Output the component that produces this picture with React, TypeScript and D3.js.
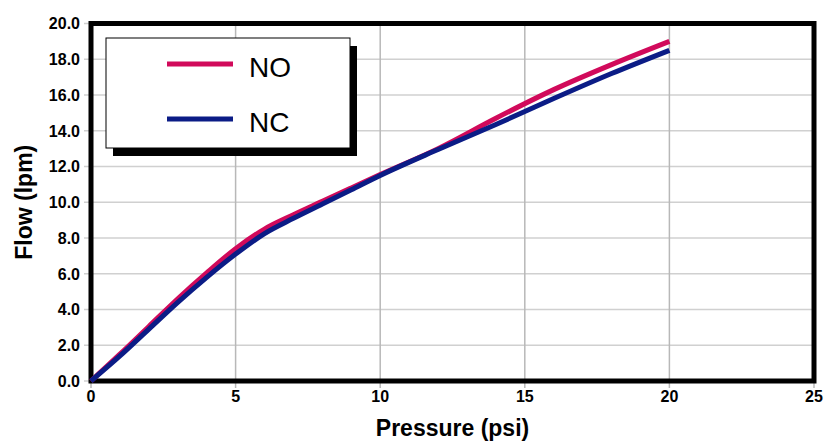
import React from "react";
import * as d3 from "d3";

const pressure: number[] = [0, 1, 2, 3, 4, 5, 6, 7, 8, 9, 10, 12, 14, 16, 18, 20];
const flowNO: number[] = [0, 1.5, 3.05, 4.6, 6.05, 7.4, 8.5, 9.3, 10.05, 10.8, 11.55, 13.0, 14.7, 16.3, 17.7, 19.0];
const flowNC: number[] = [0, 1.4, 2.9, 4.4, 5.8, 7.1, 8.25, 9.1, 9.9, 10.7, 11.5, 12.95, 14.35, 15.8, 17.2, 18.5];
const seriesNames: string[] = ["NO", "NC"];
const seriesColors: string[] = ["#d10a5b", "#0b1c86"];
const xTicks: number[] = [0, 5, 10, 15, 20, 25];
const yTicks: number[] = [0, 2, 4, 6, 8, 10, 12, 14, 16, 18, 20];
const xTitle = "Pressure (psi)";
const yTitle = "Flow (lpm)";

const W = 829;
const H = 443;
const FONT = "'Liberation Sans', Arial, Helvetica, sans-serif";

export default function App() {
  const x = d3.scaleLinear().domain([0, 25]).range([91, 814]);
  const y = d3.scaleLinear().domain([0, 20]).range([381, 23.5]);
  const line = d3
    .line<[number, number]>()
    .x((d) => x(d[0]))
    .y((d) => y(d[1]))
    .curve(d3.curveMonotoneX);
  const series = [flowNO, flowNC].map((vals) =>
    pressure.map((p, i) => [p, vals[i]] as [number, number])
  );

  const legendX = 106;
  const legendY = 38;
  const legendW = 244;
  const legendH = 110;

  return (
    <svg
      width={W}
      height={H}
      style={{ position: "absolute", left: 0, top: 0, background: "#fff" }}
      fontFamily={FONT}
    >
      <rect x={0} y={0} width={W} height={H} fill="#fff" />
      {/* horizontal gridlines */}
      {yTicks.map((t) => (
        <line
          key={"gy" + t}
          x1={84}
          x2={x(25)}
          y1={y(t)}
          y2={y(t)}
          stroke="#d0d0d0"
          strokeWidth={1.5}
        />
      ))}
      {/* vertical gridlines */}
      {xTicks.map((t) => (
        <line
          key={"gx" + t}
          x1={x(t)}
          x2={x(t)}
          y1={y(20)}
          y2={388}
          stroke="#b8b8b8"
          strokeWidth={1.5}
        />
      ))}
      {/* frame */}
      <rect
        x={x(0)}
        y={y(20)}
        width={x(25) - x(0)}
        height={y(0) - y(20)}
        fill="none"
        stroke="#000"
        strokeWidth={5}
      />
      {/* y tick labels */}
      {yTicks.map((t) => (
        <text
          key={"ly" + t}
          x={80}
          y={y(t)}
          dy="0.36em"
          textAnchor="end"
          fontSize={16}
          fontWeight="bold"
          fill="#000"
        >
          {t.toFixed(1)}
        </text>
      ))}
      {/* x tick labels */}
      {xTicks.map((t) => (
        <text
          key={"lx" + t}
          x={x(t)}
          y={402}
          textAnchor="middle"
          fontSize={16}
          fontWeight="bold"
          fill="#000"
        >
          {t}
        </text>
      ))}
      {/* axis titles */}
      <text
        x={(x(0) + x(25)) / 2}
        y={436}
        textAnchor="middle"
        fontSize={23}
        fontWeight="bold"
        fill="#000"
      >
        {xTitle}
      </text>
      <text
        transform={`translate(32,${(y(0) + y(20)) / 2}) rotate(-90)`}
        textAnchor="middle"
        fontSize={23}
        fontWeight="bold"
        fill="#000"
      >
        {yTitle}
      </text>
      {/* data lines */}
      {series.map((s, i) => (
        <path
          key={"s" + i}
          d={line(s) || ""}
          fill="none"
          stroke={seriesColors[i]}
          strokeWidth={5}
          strokeLinejoin="round"
        />
      ))}
      {/* legend */}
      <rect x={legendX + 7} y={legendY + 8} width={legendW} height={legendH} fill="#000" />
      <rect
        x={legendX}
        y={legendY}
        width={legendW}
        height={legendH}
        fill="#fff"
        stroke="#000"
        strokeWidth={1}
      />
      {seriesNames.map((n, i) => (
        <g key={"lg" + n}>
          <line
            x1={167}
            x2={233}
            y1={64 + i * 55}
            y2={64 + i * 55}
            stroke={seriesColors[i]}
            strokeWidth={5}
          />
          <text x={249} y={77 + i * 55} fontSize={28} fill="#000">
            {n}
          </text>
        </g>
      ))}
    </svg>
  );
}
